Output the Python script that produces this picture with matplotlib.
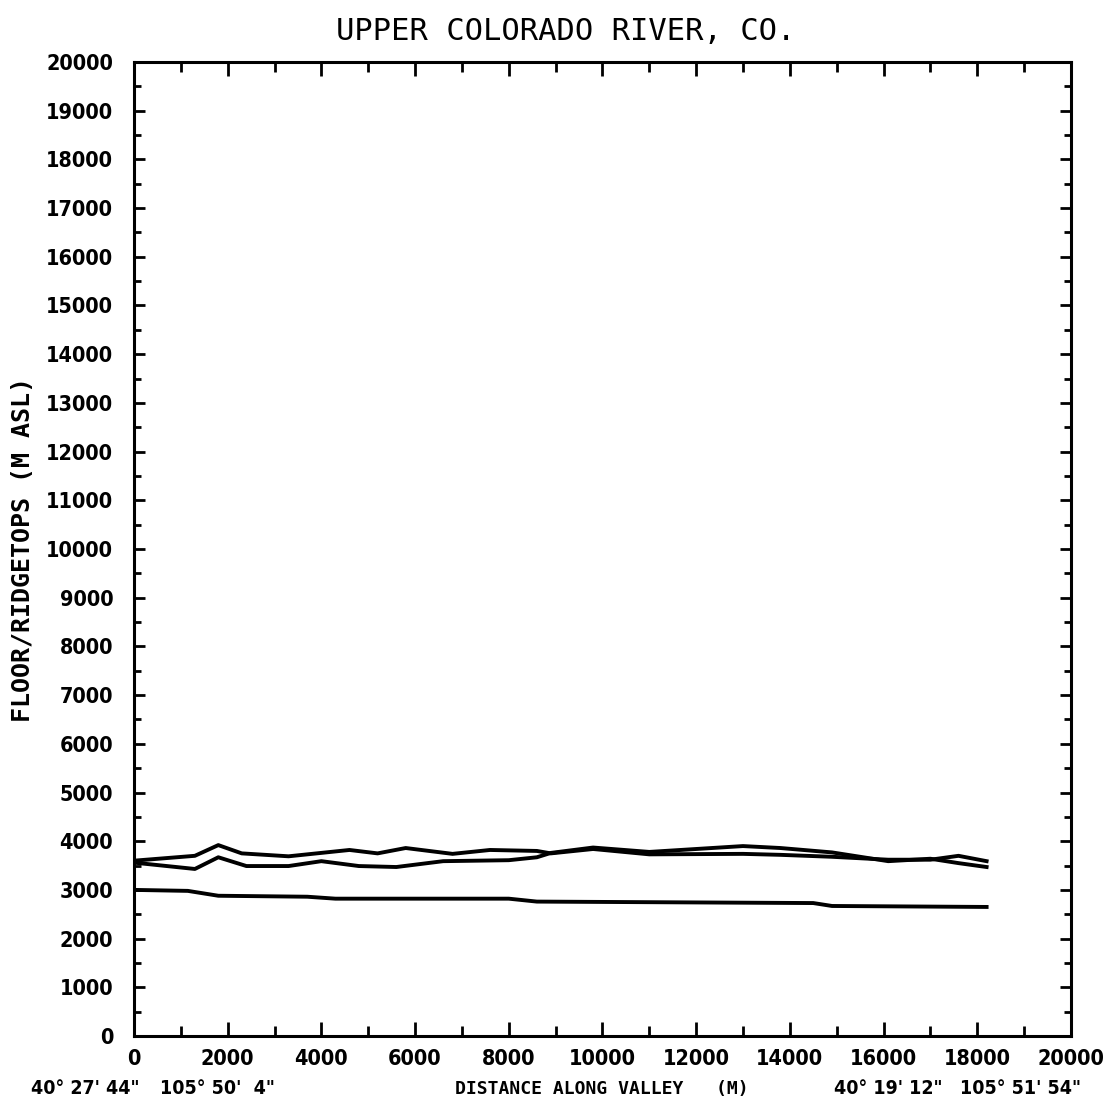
import matplotlib.pyplot as plt
from matplotlib.ticker import MultipleLocator

# valley floor and the two ridgetop profiles (m along valley, m ASL)
floor_x = [0, 1150, 1800, 3700, 4300, 8000, 8600, 14500, 14900, 18200]
floor_y = [3000, 2980, 2880, 2860, 2820, 2820, 2760, 2730, 2670, 2650]

ridge1_x = [0, 1300, 1800, 2300, 3300, 4600, 5200, 5800, 6800, 7600, 8600, 8900,
            9800, 11000, 13000, 13800, 14900, 16100, 17000, 17600, 18200]
ridge1_y = [3600, 3700, 3920, 3750, 3690, 3820, 3750, 3860, 3740, 3820, 3800, 3750,
            3840, 3730, 3740, 3720, 3680, 3620, 3620, 3700, 3590]

ridge2_x = [0, 1300, 1800, 2400, 3300, 4000, 4800, 5600, 6600, 8000, 8600, 8900,
            9800, 11000, 13000, 13800, 14900, 16100, 17000, 17600, 18200]
ridge2_y = [3560, 3430, 3670, 3490, 3490, 3590, 3490, 3470, 3590, 3610, 3670, 3760,
            3870, 3780, 3900, 3860, 3770, 3590, 3640, 3550, 3470]

title = "UPPER COLORADO RIVER, CO."
ylab = "FLOOR/RIDGETOPS (M ASL)"
xlab = "DISTANCE ALONG VALLEY   (M)"
start_lat, start_lon = "40\u00b0 27' 44\"", "105\u00b0 50'  4\""
end_lat, end_lon = "40\u00b0 19' 12\"", "105\u00b0 51' 54\""

plt.rcParams['font.family'] = ['DejaVu Sans']
plt.rcParams['font.stretch'] = 'condensed'

fig = plt.figure(figsize=(11.1, 11.11), dpi=100)
ax = fig.add_axes([0.1207, 0.0675, 0.8441, 0.8767])

for xs, ys in [(floor_x, floor_y), (ridge1_x, ridge1_y), (ridge2_x, ridge2_y)]:
    ax.plot(xs, ys, color='black', lw=2.8, solid_joinstyle='round')

ax.set_xlim(0, 20000)
ax.set_ylim(0, 20000)
ax.xaxis.set_major_locator(MultipleLocator(2000))
ax.xaxis.set_minor_locator(MultipleLocator(1000))
ax.yaxis.set_major_locator(MultipleLocator(1000))
ax.yaxis.set_minor_locator(MultipleLocator(500))
ax.tick_params(which='both', direction='in', top=True, right=True, width=2, color='black')
ax.tick_params(axis='x', which='major', length=10, pad=9)
ax.tick_params(axis='x', which='minor', length=7)
ax.tick_params(axis='y', which='major', length=8, pad=15)
ax.tick_params(axis='y', which='minor', length=5)
for lab in ax.get_xticklabels() + ax.get_yticklabels():
    lab.set_fontsize(15.5)
    lab.set_fontweight('bold')
for s in ax.spines.values():
    s.set_linewidth(2.2)

fig.text(0.51, 0.972, title, ha='center', va='center', fontsize=22,
         family=['DejaVu Sans Mono'])
fig.text(0.021, 0.505, ylab, rotation=90, ha='center', va='center', fontsize=18,
         fontweight='bold', family=['DejaVu Sans Mono'])
fig.text(0.542, 0.020, xlab, ha='center', va='center', fontsize=13,
         fontweight='bold', family=['DejaVu Sans Mono'])
fig.text(0.077, 0.020, start_lat, ha='center', va='center', fontsize=14, fontweight='bold')
fig.text(0.196, 0.020, start_lon, ha='center', va='center', fontsize=14, fontweight='bold')
fig.text(0.800, 0.020, end_lat, ha='center', va='center', fontsize=14, fontweight='bold')
fig.text(0.919, 0.020, end_lon, ha='center', va='center', fontsize=14, fontweight='bold')

fig.savefig('out.png', dpi=100, facecolor='white')
